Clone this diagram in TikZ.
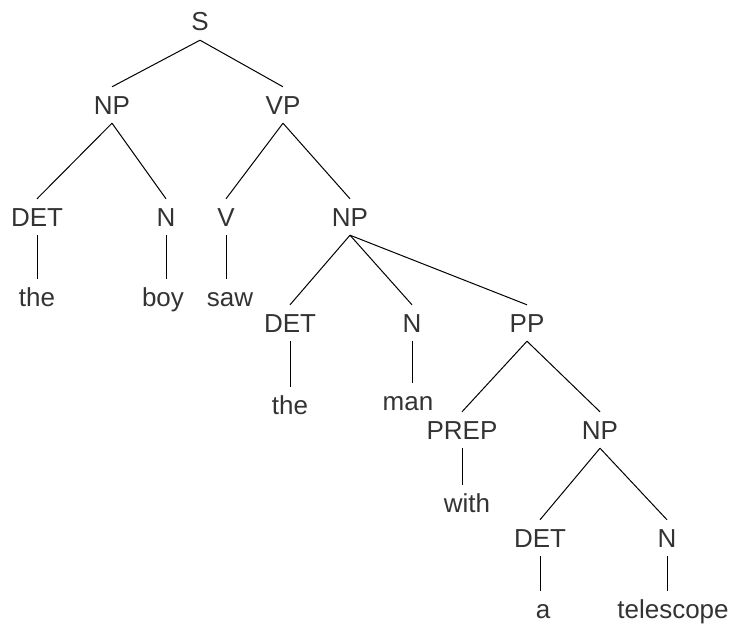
\documentclass[tikz,border=0pt]{standalone}
\usepackage{fontspec}
\setmainfont{Liberation Sans}
\usepackage{tikz}

\begin{document}
\begin{tikzpicture}[x=1pt,y=-1pt,
  cat/.style={inner xsep=0pt, inner ysep=9pt, text height=18pt, text depth=0pt,
    text=black!80, font=\fontsize{26}{30}\selectfont},
  branch/.style={line width=1pt}]
\useasboundingbox (0,0) rectangle (736,626);
% Categories of the parse tree
\node[cat] (s) at (200,22) {S};
\node[cat] (np) at (112,105) {NP};
\node[cat] (vp) at (283,105) {VP};
\node[cat] (det) at (37,217) {DET};
\node[cat] (n) at (166,217) {N};
\node[cat] (v) at (226,217) {V};
\node[cat] (np2) at (350,217) {NP};
\node[cat] (det2) at (290,323) {DET};
\node[cat] (n2) at (412,323) {N};
\node[cat] (pp) at (527,323) {PP};
\node[cat] (prep) at (462,430) {PREP};
\node[cat] (np3) at (600,430) {NP};
\node[cat] (det3) at (540,538) {DET};
\node[cat] (n3) at (667,538) {N};
% Words
\node[cat] (the) at (37,297) {the};
\node[cat] (boy) at (163,297) {boy};
\node[cat] (saw) at (230,297) {saw};
\node[cat] (the2) at (290,405) {the};
\node[cat] (man) at (408,401) {man};
\node[cat] (with) at (467,503) {with};
\node[cat] (a) at (543,609) {a};
\node[cat] (telescope) at (673,609) {telescope};

% Branches
\foreach \a/\b in {s/np, s/vp, np/det, np/n, vp/v, vp/np2, np2/det2, np2/n2,
    np2/pp, pp/prep, pp/np3, np3/det3, np3/n3} {
  \draw[branch] (\a.south) -- (\b.north);
}
\foreach \a/\b in {det/the, n/boy, v/saw, det2/the2, n2/man, prep/with,
    det3/a, n3/telescope} {
  \draw[branch] (\a.south) -- (\a.south |- \b.north);
}
\end{tikzpicture}
\end{document}
